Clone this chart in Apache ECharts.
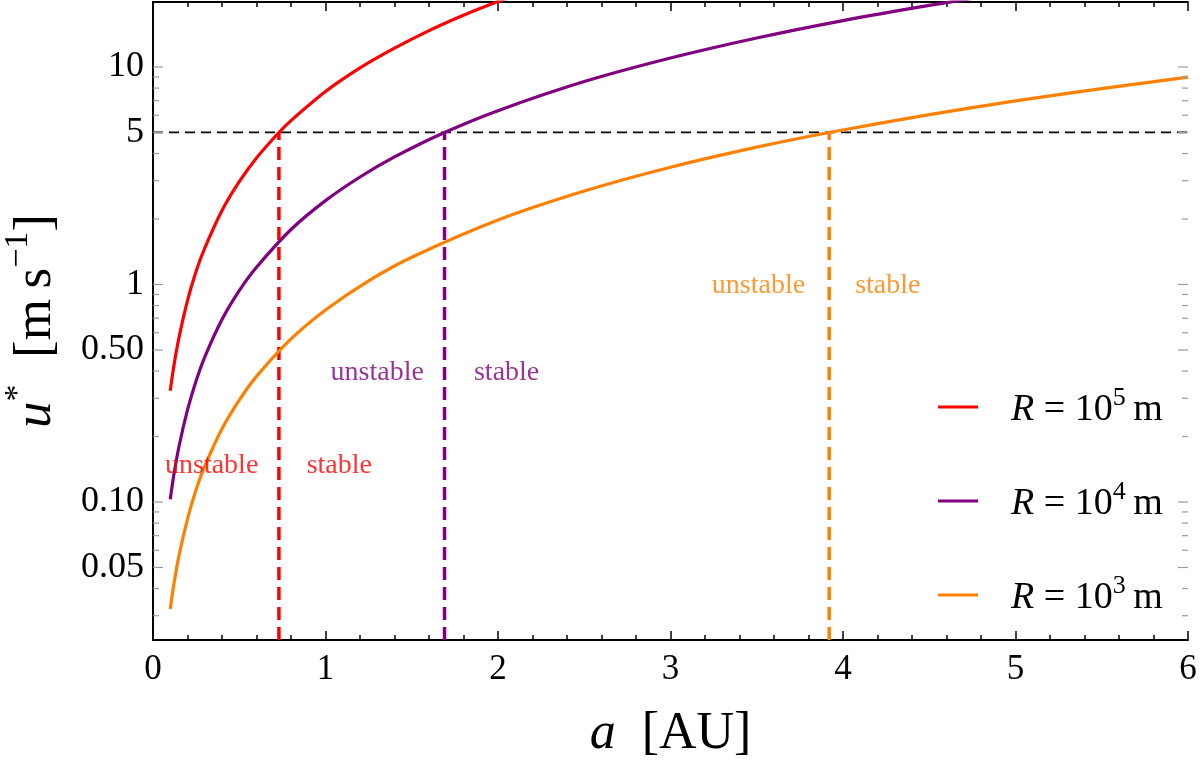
<!DOCTYPE html>
<html>
<head>
<meta charset="utf-8">
<script src="https://cdn.jsdelivr.net/npm/echarts@6/dist/echarts.min.js"></script>
<style>
  html, body { margin: 0; padding: 0; background: #fff; }
  #chart { width: 1200px; height: 771px; }
</style>
</head>
<body>
<div id="chart"></div>
<script>
// curves: a [AU] -> u* [m/s]
const aRed = [0.1, 0.12, 0.15, 0.2, 0.25, 0.3, 0.4, 0.5, 0.6, 0.73, 0.8, 1.0, 1.2, 1.4, 1.6, 1.8, 2.0, 2.1]
const uRed = [0.325, 0.418, 0.567, 0.843, 1.15, 1.47, 2.19, 2.97, 3.82, 5.0, 5.67, 7.71, 9.9, 12.2, 14.7, 17.3, 20.0, 21.4]

const aPurple = [0.1, 0.12, 0.15, 0.2, 0.25, 0.3, 0.4, 0.5, 0.6, 0.8, 1.0, 1.2, 1.4, 1.69, 2.0, 2.5, 3.0, 3.5, 4.0, 4.5, 5.0]
const uPurple = [0.103, 0.132, 0.179, 0.265, 0.361, 0.464, 0.69, 0.937, 1.2, 1.79, 2.43, 3.12, 3.86, 5.0, 6.3, 8.57, 11.0, 13.6, 16.35, 19.2, 22.2]

const aOrange = [0.1, 0.12, 0.15, 0.2, 0.25, 0.3, 0.4, 0.5, 0.6, 0.8, 1.0, 1.25, 1.5, 2.0, 2.5, 3.0, 3.5, 3.92, 4.5, 5.0, 5.5, 6.0]
const uOrange = [0.0322, 0.0414, 0.0564, 0.0835, 0.114, 0.146, 0.217, 0.294, 0.378, 0.562, 0.764, 1.04, 1.335, 1.98, 2.69, 3.46, 4.28, 5.0, 6.04, 6.99, 7.96, 8.98]

const curveColors = ['#ff0000', '#800080', '#ff8000']
const exponents = [5, 4, 3]
const seriesNames = ['R = 10^5 m', 'R = 10^4 m', 'R = 10^3 m']

// threshold u* = 5 and where each curve crosses it
const uThreshold = 5
const aCross = [0.73, 1.69, 3.92]

// "unstable" / "stable" label anchors [a, u]
const unstablePos = [[0.34, 0.147], [1.3, 0.392], [3.51, 0.984]]
const stablePos = [[1.08, 0.147], [2.05, 0.392], [4.26, 0.984]]

const xMin = 0, xMax = 6
const yMin = 0.0232, yMax = 19.9
const yMajorTicks = [0.05, 0.1, 0.5, 1, 5, 10]
const yMajorLabels = ['0.05', '0.10', '0.50', '1', '5', '10']
const yMinorTicks = [0.03, 0.04, 0.06, 0.07, 0.08, 0.09, 0.2, 0.3, 0.4, 0.6, 0.7, 0.8, 0.9, 2, 3, 4, 6, 7, 8, 9]

const FONT = 'Liberation Serif'
const chart = echarts.init(document.getElementById('chart'))

const zip = (xs, ys) => xs.map((x, i) => [x, ys[i]])

const tickRender = (len, withLabel) => (params, api) => {
  const v = api.value(1)
  const l = api.coord([xMin, v])
  const r = api.coord([xMax, v])
  const children = [
    { type: 'line', shape: { x1: l[0], y1: l[1], x2: l[0] + len, y2: l[1] }, style: { stroke: '#9a9a9a', lineWidth: 1.2 } },
    { type: 'line', shape: { x1: r[0], y1: r[1], x2: r[0] - len, y2: r[1] }, style: { stroke: '#9a9a9a', lineWidth: 1.2 } }
  ]
  if (withLabel) {
    children.push({
      type: 'text',
      x: l[0] - 9,
      y: l[1],
      style: {
        text: yMajorLabels[params.dataIndex],
        fontSize: 36,
        fontFamily: FONT,
        fill: '#000',
        align: 'right',
        verticalAlign: 'middle'
      }
    })
  }
  return { type: 'group', children }
}

const curveSeries = [uRed, uPurple, uOrange].map((u, i) => ({
  name: seriesNames[i],
  type: 'line',
  data: zip([aRed, aPurple, aOrange][i], u),
  smooth: 0.3,
  showSymbol: false,
  symbol: 'none',
  lineStyle: { color: curveColors[i], width: 3.2 },
  itemStyle: { color: curveColors[i] },
  z: 4
}))

const crossSeries = aCross.map((a, i) => ({
  type: 'line',
  data: [[a, yMin], [a, uThreshold]],
  symbol: 'none',
  lineStyle: { color: curveColors[i], width: 3.5, type: [13, 7] },
  z: 3
}))

const labelSeries = curveColors.map((c, i) => ({
  type: 'scatter',
  symbolSize: 0,
  data: [
    { value: unstablePos[i], label: { formatter: 'unstable' } },
    { value: stablePos[i], label: { formatter: 'stable' } }
  ],
  label: {
    show: true,
    position: 'inside',
    color: c,
    fontFamily: FONT,
    fontSize: 28
  },
  silent: true,
  z: 5
}))

chart.setOption({
  animation: false,
  backgroundColor: '#fff',
  grid: { left: 153, right: 12, top: 2, bottom: 131, containLabel: false, outerBoundsMode: 'none' },
  legend: {
    data: seriesNames,
    orient: 'vertical',
    left: 933,
    top: 380,
    itemGap: 50,
    itemWidth: 40,
    itemHeight: 3,
    icon: 'rect',
    formatter: name => {
      const e = exponents[seriesNames.indexOf(name)]
      return '{i|R}{n| = 10}{s|' + e + '}{n|\u2009m}'
    },
    textStyle: {
      padding: [0, 0, 0, 28],
      rich: {
        i: { fontFamily: FONT, fontStyle: 'italic', fontSize: 38, lineHeight: 44, color: '#000', verticalAlign: 'bottom' },
        n: { fontFamily: FONT, fontSize: 38, lineHeight: 44, color: '#000', verticalAlign: 'bottom' },
        s: { fontFamily: FONT, fontSize: 26, lineHeight: 26, color: '#000', verticalAlign: 'top' }
      }
    }
  },
  xAxis: [
    {
      type: 'value',
      min: xMin,
      max: xMax,
      interval: 1,
      axisLine: { lineStyle: { color: '#000', width: 2 } },
      axisTick: { inside: true, length: 9, lineStyle: { color: '#000', width: 1.5 } },
      minorTick: { show: true, splitNumber: 5, length: 5, lineStyle: { color: '#000', width: 1.5 } },
      splitLine: { show: false },
      axisLabel: { fontFamily: FONT, fontSize: 35, color: '#000', margin: 12 },
      name: '{i|a}{n|\u2002[AU]}',
      nameLocation: 'middle',
      nameGap: 68,
      nameTextStyle: {
        rich: {
          i: { fontFamily: FONT, fontStyle: 'italic', fontSize: 52, color: '#000' },
          n: { fontFamily: FONT, fontSize: 52, color: '#000' }
        }
      }
    },
    {
      type: 'value',
      position: 'top',
      min: xMin,
      max: xMax,
      interval: 1,
      axisLine: { lineStyle: { color: '#000', width: 2 } },
      axisTick: { inside: true, length: 9, lineStyle: { color: '#000', width: 1.5 } },
      minorTick: { show: true, splitNumber: 5, length: 5, lineStyle: { color: '#000', width: 1.5 } },
      splitLine: { show: false },
      axisLabel: { show: false }
    }
  ],
  yAxis: [
    {
      type: 'log',
      min: yMin,
      max: yMax,
      axisLine: { show: true, lineStyle: { color: '#000', width: 2 } },
      axisTick: { show: false },
      axisLabel: { show: false },
      splitLine: { show: false },
      name: '{i|u}{s|*}{n|\u2002[m\u2009s}{s|\u22121}{n|]}',
      nameLocation: 'middle',
      nameGap: 90,
      nameRotate: 90,
      nameTextStyle: {
        rich: {
          i: { fontFamily: FONT, fontStyle: 'italic', fontSize: 53, lineHeight: 62, color: '#000', verticalAlign: 'bottom' },
          n: { fontFamily: FONT, fontSize: 53, lineHeight: 62, color: '#000', verticalAlign: 'bottom' },
          s: { fontFamily: FONT, fontSize: 34, lineHeight: 36, color: '#000', verticalAlign: 'top' }
        }
      }
    },
    {
      type: 'log',
      position: 'right',
      min: yMin,
      max: yMax,
      axisLine: { show: true, lineStyle: { color: '#000', width: 2 } },
      axisTick: { show: false },
      axisLabel: { show: false },
      splitLine: { show: false }
    }
  ],
  series: [
    {
      type: 'line',
      data: [[xMin, uThreshold], [xMax, uThreshold]],
      symbol: 'none',
      lineStyle: { color: '#000', width: 1.8, type: [10, 6] },
      z: 3
    },
    ...crossSeries,
    ...curveSeries,
    ...labelSeries,
    {
      type: 'custom',
      data: yMajorTicks.map(v => [xMin, v]),
      encode: { x: 0, y: 1 },
      renderItem: tickRender(10, true),
      clip: false,
      silent: true,
      z: 6
    },
    {
      type: 'custom',
      data: yMinorTicks.map(v => [xMin, v]),
      encode: { x: 0, y: 1 },
      renderItem: tickRender(6, false),
      clip: false,
      silent: true,
      z: 6
    }
  ]
})
</script>
</body>
</html>
